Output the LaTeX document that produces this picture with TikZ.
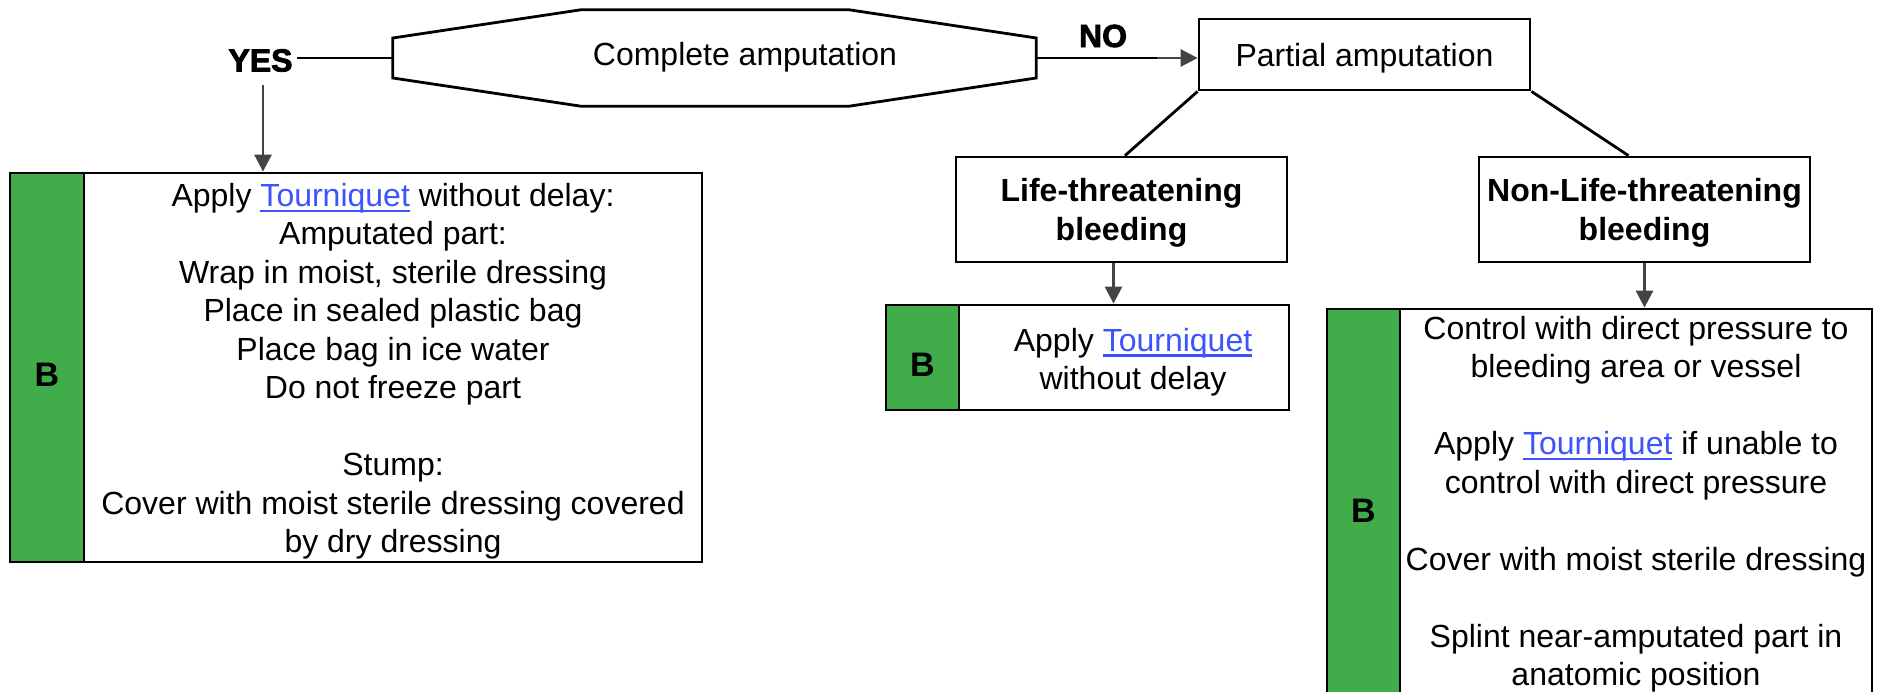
\documentclass[tikz,border=0pt]{standalone}
\usepackage{fontspec}
\setmainfont{Liberation Sans}
\newfontfamily\heavyfont{Liberation Sans Bold}[FakeBold=2.5]
\usetikzlibrary{arrows.meta,calc}
\definecolor{bgreen}{RGB}{64,173,74}
\definecolor{linkblue}{RGB}{61,84,250}
\definecolor{arrowgray}{RGB}{68,68,68}
\newcommand\lnk[1]{{\color{linkblue}\setbox0\hbox{#1}\rlap{\rule[-5.5pt]{\wd0}{2.2pt}}\box0}}
\begin{document}
\begin{tikzpicture}[x=1pt,y=-1pt,
  txt/.style={font=\fontsize{32pt}{38.5pt}\selectfont, align=center, inner sep=0pt},
  btxt/.style={font=\fontsize{32pt}{38.5pt}\selectfont\bfseries, align=center, inner sep=0pt},
  boxw/.style={draw=black, line width=2.8pt, fill=white, inner sep=0pt},
  boxg/.style={draw=black, line width=2.8pt, fill=bgreen, inner sep=0pt,
    font=\fontsize{34pt}{40pt}\selectfont\bfseries, text height=38pt, text depth=0pt},
  conn/.style={draw=black, line width=2.8pt},
  arr/.style={draw=arrowgray, line width=2.8pt, -{Triangle[width=17pt,length=17pt]}},
  heavy/.style={font=\heavyfont\fontsize{32pt}{38pt}\selectfont, inner sep=0pt},
]
\useasboundingbox[fill=white] (0,0) rectangle (1883,692);

% decision octagon
\node[minimum width=643pt, minimum height=96pt, inner sep=0pt] (oct) at (714.5,58) {};
\draw[conn, line join=miter] ([yshift=20pt]oct.west) -- ([xshift=188pt]oct.north west)
  -- ([xshift=-187pt]oct.north east) -- ([yshift=20pt]oct.east)
  -- ([yshift=-20pt]oct.east) -- ([xshift=-187pt]oct.south east)
  -- ([xshift=188pt]oct.south west) -- ([yshift=-20pt]oct.west) -- cycle;
\node[txt] (octtxt) at (745,57) {Complete amputation};

% YES branch
\node[heavy, inner sep=4pt] (yes) at (260.5,60.5) {YES};
\draw[conn] (yes.east |- oct.west) -- (oct.west);

\node[boxw, minimum width=618pt, minimum height=389pt] (lw) at (393,367.5) {};
\node[txt] (lwtxt) at (393,371.2)
  {Apply \lnk{Tourniquet} without delay:\\ Amputated part:\\ Wrap in moist, sterile dressing\\
   Place in sealed plastic bag\\ Place bag in ice water\\ Do not freeze part\\[38.5pt]
   Stump:\\ Cover with moist sterile dressing covered\\ by dry dressing};
\node[boxg, minimum width=74pt, minimum height=389pt] (lg) at (47,367.5) {B};
\draw[arr] ([xshift=2.5pt,yshift=-9pt]yes.south) -- ([xshift=2.5pt]yes.south |- lw.north);

% NO branch
\node[boxw, minimum width=331pt, minimum height=71pt] (partial) at (1364.5,54.5) {};
\node[txt] (partialtxt) at (1364.5,58.2) {Partial amputation};
\node[heavy] (no) at (1103,36) {NO};
\coordinate (nomid) at (1157,58);
\draw[conn] (oct.east) -- (nomid);
\draw[arr] (nomid) -- (nomid -| partial.west);

\node[boxw, minimum width=331pt, minimum height=105pt] (life) at (1121.5,209.5) {};
\node[btxt] (lifetxt) at (1121.5,212.8) {Life-threatening\\ bleeding};
\node[boxw, minimum width=331pt, minimum height=105pt] (nonlife) at (1644.5,209.5) {};
\node[btxt] (nonlifetxt) at (1644.5,212.8) {Non-Life-threatening\\ bleeding};
\draw[conn] (partial.south west) -- ([xshift=3.5pt]life.north);
\draw[conn] (partial.south east) -- ([xshift=-16pt]nonlife.north);

% life-threatening action
\node[boxw, minimum width=330pt, minimum height=105pt] (lbw) at (1124,357.5) {};
\node[txt] (lbwtxt) at (1133,362) {Apply \lnk{Tourniquet}\\ without delay};
\node[boxg, minimum width=73pt, minimum height=105pt] (lbg) at (922.5,357.5) {B};
\draw[arr] ([xshift=-8pt]life.south) -- ([xshift=-8pt]life.south |- lbw.north);

% non-life-threatening action
\node[boxw, minimum width=472pt, minimum height=388pt] (rw) at (1636,503) {};
\node[txt] (rwtxt) at (1636,504)
  {Control with direct pressure to\\ bleeding area or vessel\\[38.5pt]
   Apply \lnk{Tourniquet} if unable to\\ control with direct pressure\\[38.5pt]
   Cover with moist sterile dressing\\[38.5pt]
   Splint near-amputated part in\\ anatomic position};
\node[boxg, minimum width=73pt, minimum height=388pt] (rg) at (1363.5,503) {B};
\draw[arr] (nonlife.south) -- (nonlife.south |- rw.north);
\end{tikzpicture}
\end{document}
